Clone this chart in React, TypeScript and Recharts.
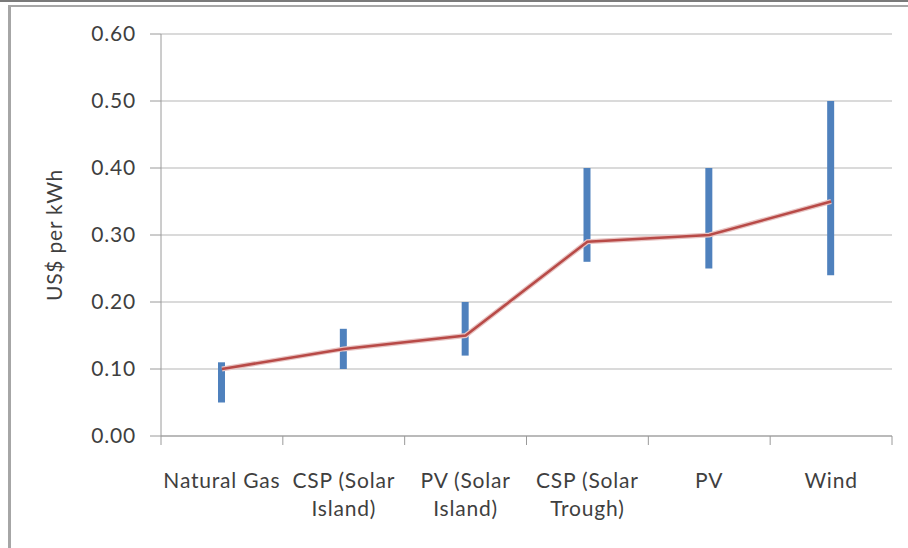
import React from 'react'
import { ComposedChart, Bar, Line, XAxis, YAxis, CartesianGrid, Label } from 'recharts'

const categories = ['Natural Gas', 'CSP (Solar Island)', 'PV (Solar Island)', 'CSP (Solar Trough)', 'PV', 'Wind']
const tickLines = [['Natural Gas'], ['CSP (Solar', 'Island)'], ['PV (Solar', 'Island)'], ['CSP (Solar', 'Trough)'], ['PV'], ['Wind']]
const lowValues = [0.05, 0.10, 0.12, 0.26, 0.25, 0.24]
const highValues = [0.11, 0.16, 0.20, 0.40, 0.40, 0.50]
const avgValues = [0.10, 0.13, 0.15, 0.29, 0.30, 0.35]
const yTicks = [0, 0.1, 0.2, 0.3, 0.4, 0.5, 0.6]

const data = categories.map((name, i) => ({
  name,
  range: [lowValues[i], highValues[i]],
  avg: avgValues[i],
}))

const FONT = 'Lato, "Open Sans", sans-serif'
const TEXT = '#3f3f3f'
const AXIS = '#9a9a9a'
const FS = 21
const LS = 0.8

const CategoryTick = (props: any) => {
  const { x, y, payload, index } = props
  const lines = tickLines[index] || [payload.value]
  const left = payload.coordinate - payload.offset
  const right = payload.coordinate + payload.offset
  return (
    <g>
      <line x1={left} y1={y - 8} x2={left} y2={y + 1} stroke={AXIS} />
      {index === categories.length - 1 && (
        <line x1={right} y1={y - 8} x2={right} y2={y + 1} stroke={AXIS} />
      )}
      <text x={x} y={y + 44} textAnchor="middle" fill={TEXT} fontSize={FS} fontFamily={FONT} letterSpacing={LS}>
        {lines.map((l: string, k: number) => (
          <tspan key={k} x={x} dy={k === 0 ? 0 : 28}>{l}</tspan>
        ))}
      </text>
    </g>
  )
}

export default function App() {
  return (
    <div style={{ position: 'absolute', left: 0, top: 0, width: 908, height: 548, background: '#fff', overflow: 'hidden' }}>
      <div style={{ position: 'absolute', left: 0, top: 0, width: 908, height: 2, background: '#7a7a7a' }} />
      <div style={{ position: 'absolute', left: 8, top: 5, width: 908, height: 560, borderTop: '2px solid #a6a6a6', borderLeft: '3px solid #a6a6a6' }} />
      <div style={{ position: 'absolute', left: 0, top: 0 }}>
        <ComposedChart width={908} height={548} data={data} margin={{ top: 34, right: 16, bottom: 8, left: 41 }}>
          <CartesianGrid vertical={false} stroke="#b5b5b5" />
          <XAxis
            dataKey="name"
            axisLine={{ stroke: AXIS }}
            tickLine={false}
            tick={<CategoryTick />}
            height={104}
            interval={0}
          />
          <YAxis
            domain={[0, 0.6]}
            ticks={yTicks}
            tickFormatter={(v: number) => v.toFixed(2)}
            axisLine={{ stroke: AXIS }}
            tickLine={{ stroke: AXIS }}
            tickSize={11}
            tickMargin={14}
            width={120}
            tick={{ fill: TEXT, fontSize: FS, fontFamily: FONT, letterSpacing: LS }}
          >
            <Label
              value="US$ per kWh"
              angle={-90}
              position="insideLeft"
              offset={14}
              style={{ fill: TEXT, fontSize: FS, fontFamily: FONT, letterSpacing: LS, textAnchor: 'middle' }}
            />
          </YAxis>
          <Bar dataKey="range" fill="#4F81BD" barSize={7} isAnimationActive={false} />
          <Line
            type="linear"
            dataKey="avg"
            stroke="#e8c4c3"
            strokeWidth={5}
            dot={false}
            legendType="none"
            isAnimationActive={false}
          />
          <Line
            type="linear"
            dataKey="avg"
            stroke="#B84A47"
            strokeWidth={2.5}
            dot={false}
            isAnimationActive={false}
          />
        </ComposedChart>
      </div>
    </div>
  )
}
